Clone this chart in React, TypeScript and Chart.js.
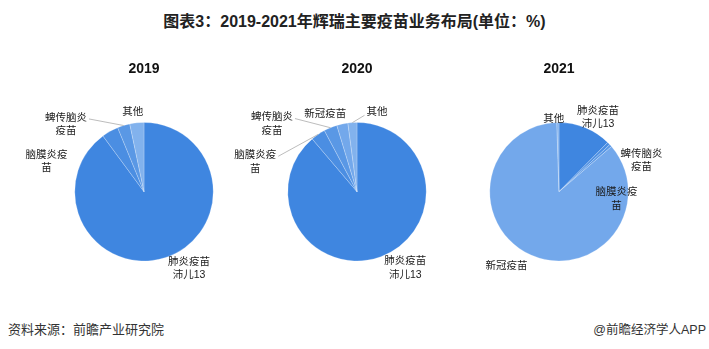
import React, { useEffect, useRef } from 'react';
import { Chart, registerables } from 'chart.js';

Chart.register(...registerables);

const chartTitle = '图表3：2019-2021年辉瑞主要疫苗业务布局(单位：%)';
const sourceText = '资料来源：前瞻产业研究院';
const brandText = '@前瞻经济学人APP';

const categories = ['肺炎疫苗沛儿13', '脑膜炎疫苗', '蜱传脑炎疫苗', '新冠疫苗', '其他'];
const categoryLabelLines = [['肺炎疫苗', '沛儿13'], ['脑膜炎疫', '苗'], ['蜱传脑炎', '疫苗'], ['新冠疫苗'], ['其他']];
const years = ['2019', '2020', '2021'];
const values2019 = [89.9, 3.9, 2.9, 0, 3.3];
const values2020 = [88.8, 3.4, 3.1, 2.6, 2.1];
const values2021 = [12.4, 0.7, 0.6, 85.8, 0.5];

const sliceColors = ['#3F86E0', '#4B8EE2', '#5A98E5', '#73A8EB', '#82B2ED'];
const fontFamily = '"Liberation Sans", "Noto Sans CJK SC", sans-serif';

type Placement = { dx: number; dy: number; leader?: boolean } | null;

const placements2019: Placement[] = [
  { dx: 45, dy: 77 },
  { dx: -97.5, dy: -30 },
  { dx: -78, dy: -67, leader: true },
  null,
  { dx: -11.3, dy: -79.2 },
];
const placements2020: Placement[] = [
  { dx: 48.3, dy: 76.3 },
  { dx: -101.7, dy: -29.7, leader: true },
  { dx: -85, dy: -67.4, leader: true },
  { dx: -31.7, dy: -78 },
  { dx: 20, dy: -79.4, leader: true },
];
const placements2021: Placement[] = [
  { dx: 39.1, dy: -74.2 },
  { dx: 57.4, dy: 7.5 },
  { dx: 82.4, dy: -30.9 },
  { dx: -52.6, dy: 74.1 },
  { dx: -5.3, dy: -72.5 },
];

const makeLabelPlugin = (placements: Placement[]) => ({
  id: 'sliceLabels',
  afterDatasetsDraw(chart: any) {
    const ctx = chart.ctx as CanvasRenderingContext2D;
    const meta = chart.getDatasetMeta(0);
    const data = chart.data.datasets[0].data as number[];
    ctx.save();
    ctx.font = `10.5px ${fontFamily}`;
    ctx.textAlign = 'center';
    ctx.textBaseline = 'middle';
    meta.data.forEach((arc: any, i: number) => {
      const p = placements[i];
      if (!p || !(data[i] > 0)) return;
      const { x, y, startAngle, endAngle, outerRadius } = arc.getProps(
        ['x', 'y', 'startAngle', 'endAngle', 'outerRadius'],
        true
      );
      const lines = categoryLabelLines[i];
      const lh = 13.5;
      const lx = x + p.dx;
      const ly = y + p.dy;
      const firstY = ly - ((lines.length - 1) * lh) / 2;
      if (p.leader) {
        const mid = (startAngle + endAngle) / 2;
        const ax = x + Math.cos(mid) * outerRadius;
        const ay = y + Math.sin(mid) * outerRadius;
        const w = Math.max(...lines.map((l) => ctx.measureText(l).width));
        const sx = ax > lx ? lx + w / 2 + 2 : lx - w / 2 - 2;
        const sy = ax > lx ? firstY + 1 : firstY + 3;
        ctx.beginPath();
        ctx.moveTo(sx, sy);
        ctx.lineTo(ax, ay);
        ctx.strokeStyle = '#A6A6A6';
        ctx.lineWidth = 0.75;
        ctx.stroke();
      }
      ctx.fillStyle = '#1a1a1a';
      lines.forEach((t, k) => ctx.fillText(t, lx, firstY + k * lh));
    });
    ctx.restore();
  },
});

function PieChart({ year, values, placements, cx }: { year: string; values: number[]; placements: Placement[]; cx: number }) {
  const ref = useRef<HTMLCanvasElement>(null);
  useEffect(() => {
    const chart = new Chart(ref.current as HTMLCanvasElement, {
      type: 'pie',
      data: {
        labels: categories,
        datasets: [
          {
            data: values,
            backgroundColor: sliceColors,
            borderColor: 'rgba(255,255,255,0.45)',
            borderWidth: 0.5,
          },
        ],
      },
      options: {
        responsive: false,
        animation: false,
        events: [],
        layout: { padding: { left: 55, right: 55, top: 0, bottom: 38.8 } },
        plugins: {
          legend: { display: false },
          tooltip: { enabled: false },
          title: {
            display: true,
            text: year,
            color: '#111',
            font: { family: fontFamily, size: 14, weight: 'bold' },
            padding: { top: 20.4, bottom: 45 },
          },
        },
      } as any,
      plugins: [makeLabelPlugin(placements) as any],
    });
    return () => chart.destroy();
  }, []);
  return (
    <canvas
      ref={ref}
      width={250}
      height={260}
      style={{ position: 'absolute', left: cx - 125, top: 40, width: 250, height: 260 }}
    />
  );
}

export default function App() {
  return (
    <div
      style={{
        position: 'fixed',
        left: 0,
        top: 0,
        width: 709,
        height: 349,
        background: '#fff',
        overflow: 'hidden',
        fontFamily,
      }}
    >
      <div
        style={{
          position: 'absolute',
          left: 0,
          top: 12,
          width: 709,
          textAlign: 'center',
          fontSize: 16,
          fontWeight: 'bold',
          lineHeight: '20px',
          color: '#222',
          whiteSpace: 'nowrap',
        }}
      >
        {chartTitle}
      </div>
      <PieChart year={years[0]} values={values2019} placements={placements2019} cx={144} />
      <PieChart year={years[1]} values={values2020} placements={placements2020} cx={356.7} />
      <PieChart year={years[2]} values={values2021} placements={placements2021} cx={559.3} />
      <div
        style={{
          position: 'absolute',
          left: 8,
          top: 321,
          fontSize: 13,
          lineHeight: '18px',
          color: '#333',
          whiteSpace: 'nowrap',
        }}
      >
        {sourceText}
      </div>
      <div
        style={{
          position: 'absolute',
          right: 3,
          top: 321,
          fontSize: 12.5,
          lineHeight: '18px',
          color: '#333',
          whiteSpace: 'nowrap',
        }}
      >
        {brandText}
      </div>
    </div>
  );
}
